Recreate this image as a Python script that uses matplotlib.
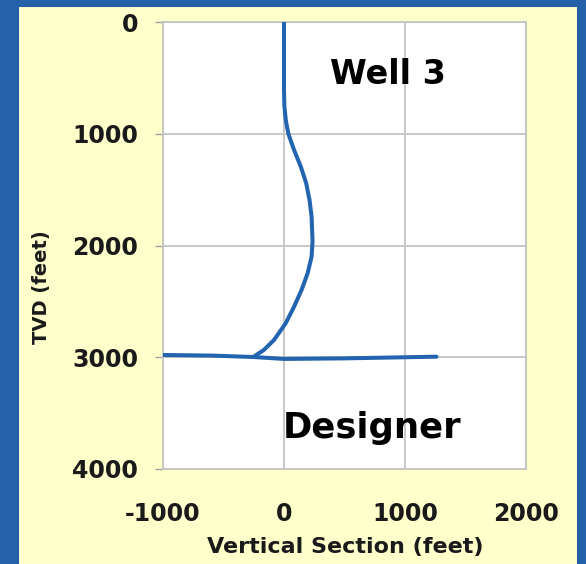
import matplotlib
matplotlib.use("Agg")
import matplotlib.pyplot as plt
from matplotlib.patches import Rectangle

# Data
build_vs = [0, 0, 0, 3, 15, 36, 83, 139, 183, 211, 228, 236, 228, 195, 145, 83, 14, -83, -167, -250]
build_tvd = [0, 300, 600, 750, 880, 1000, 1145, 1295, 1441, 1593, 1742, 1960, 2100, 2249, 2398, 2548, 2696, 2846, 2935, 2995]
lateral_vs = [-1000, -600, -250, 0, 500, 1000, 1260]
lateral_tvd = [2980, 2985, 2998, 3015, 3010, 3000, 2995]
x_ticks = [-1000, 0, 1000, 2000]
y_ticks = [0, 1000, 2000, 3000, 4000]

plt.rcParams['font.family'] = ['DejaVu Sans']
plt.rcParams['axes.unicode_minus'] = False

border = '#2561A8'
panel = '#FFFFCC'
line_c = '#2264B0'
grid_c = '#C4C4C4'

fig = plt.figure(figsize=(5.86, 5.64), dpi=100, facecolor=border)
fig.patches.append(Rectangle((19/586, 0), (577-19)/586, 1 - 7/564,
                             transform=fig.transFigure, facecolor=panel,
                             edgecolor='none', zorder=-10))
ax = fig.add_axes([163/586, 1 - 469/564, (526-163)/586, (469-22)/564])
ax.set_zorder(5)
ax.set_facecolor('white')

ax.plot(build_vs, build_tvd, color=line_c, lw=2.9, solid_capstyle='round', solid_joinstyle='round', zorder=3)
ax.plot(lateral_vs, lateral_tvd, color=line_c, lw=2.9, solid_capstyle='round', solid_joinstyle='round', zorder=3)

ax.set_xlim(-1000, 2000)
ax.set_ylim(4000, 0)
ax.set_xticks(x_ticks)
ax.set_yticks(y_ticks)
ax.grid(True, color=grid_c, lw=1.3)
ax.set_axisbelow(True)
for s in ax.spines.values():
    s.set_color(grid_c)
    s.set_linewidth(1.3)

ax.tick_params(axis='y', length=6, width=1.0, color='#A0A0A0', pad=12,
               labelsize=17, labelcolor='#1a1a1a')
ax.tick_params(axis='x', length=0, pad=24, labelsize=17, labelcolor='#1a1a1a')
for lab in ax.get_xticklabels() + ax.get_yticklabels():
    lab.set_fontweight('bold')

ax.set_xlabel('Vertical Section (feet)', fontsize=16, fontweight='bold', color='#1a1a1a')
ax.xaxis.set_label_coords(0.501, -0.152)
ax.set_ylabel('TVD (feet)', fontsize=14, fontweight='bold', color='#1a1a1a')
ax.yaxis.label.set_va('center')
ax.yaxis.set_label_coords(-0.336, 0.407)

ax.text(858, 474, 'Well 3', fontsize=24, fontweight='bold', ha='center', va='center', color='black')
ax.text(725, 3633, 'Designer', fontsize=25.5, fontweight='bold', ha='center', va='center', color='black')

fig.savefig('out.png', dpi=100, facecolor=border)
